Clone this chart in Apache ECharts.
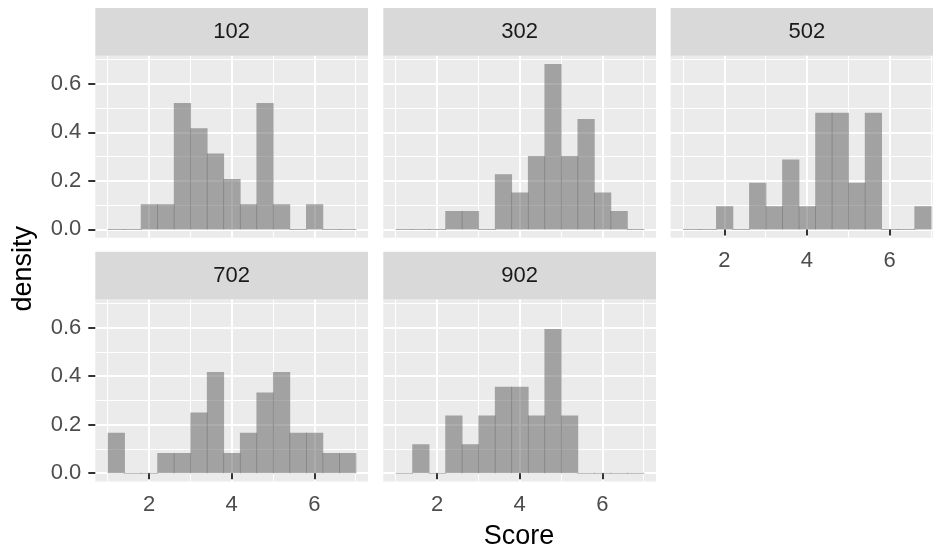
<!DOCTYPE html>
<html lang="en">
<head>
    <meta charset="utf-8">
    <title>Score density by group</title>
    <script src="https://cdn.jsdelivr.net/npm/echarts@6.0.0/dist/echarts.min.js"></script>
    <style>
        html, body { margin: 0; padding: 0; background: #fff; }
        #main { width: 933px; height: 550px; }
    </style>
</head>
<body>
<div id="main"></div>
<script type="text/javascript">
    // bin edges (width 0.4) and density per bin
    var breaks = [1.0, 1.4, 1.8, 2.2, 2.6, 3.0, 3.4, 3.8, 4.2, 4.6, 5.0, 5.4, 5.8, 6.2, 6.6, 7.0];
    var panelNames = ['102', '302', '502', '702', '902'];
    var d102 = [0, 0, 0.104, 0.104, 0.521, 0.417, 0.313, 0.208, 0.104, 0.521, 0.104, 0, 0.104, 0, 0];
    var d302 = [0, 0, 0, 0.076, 0.076, 0, 0.227, 0.152, 0.303, 0.682, 0.303, 0.455, 0.152, 0.076, 0];
    var d502 = [0, 0, 0.096, 0, 0.192, 0.096, 0.288, 0.096, 0.481, 0.481, 0.192, 0.481, 0, 0, 0.096];
    var d702 = [0.167, 0, 0, 0.083, 0.083, 0.25, 0.417, 0.083, 0.167, 0.333, 0.417, 0.167, 0.167, 0.083, 0.083];
    var d902 = [0, 0.119, 0, 0.238, 0.119, 0.238, 0.357, 0.357, 0.238, 0.595, 0.238, 0, 0, 0, 0];
    var xMajor = [2, 4, 6];
    var xMinor = [1, 3, 5, 7];
    var yMajor = [0, 0.2, 0.4, 0.6];
    var yMinor = [0.1, 0.3, 0.5, 0.7];

    var densities = [d102, d302, d502, d702, d902];
    var xRange = [0.7, 7.3];
    var yRange = [-0.0341, 0.7159];

    // panel boxes in px: left, top, width, height; which axes get labels
    var panels = [
        {left: 95.3, top: 55.8, showX: false, showY: true},
        {left: 383.3, top: 55.8, showX: false, showY: false},
        {left: 670.6, top: 55.8, showX: true, showY: false},
        {left: 95.3, top: 299.6, showX: true, showY: true},
        {left: 383.3, top: 299.6, showX: true, showY: false}
    ];
    var panelW = 272.7, panelH = 181.9, stripH = 47.8;
    var labelFont = 'Liberation Sans, Arial, sans-serif';

    var grids = [], xAxes = [], yAxes = [], series = [], graphics = [];

    panels.forEach(function (p, i) {
        grids.push({
            left: p.left, top: p.top, width: panelW, height: panelH,
            show: true, backgroundColor: '#EBEBEB', borderWidth: 0,
            containLabel: false, outerBoundsMode: 'none'
        });
        // major x axis
        xAxes.push({
            type: 'value', gridIndex: i, min: xRange[0], max: xRange[1],
            axisLine: {show: false},
            axisTick: {show: p.showX, length: 6, customValues: xMajor, lineStyle: {color: '#333333', width: 2}},
            axisLabel: {show: p.showX, customValues: xMajor, margin: 12, color: '#4D4D4D',
                fontSize: 22, fontFamily: labelFont},
            splitLine: {show: true, lineStyle: {color: '#FFFFFF', width: 2}}
        });
        // minor x lines
        xAxes.push({
            type: 'value', gridIndex: i, min: xRange[0], max: xRange[1],
            axisLine: {show: false}, axisTick: {show: false, customValues: xMinor},
            axisLabel: {show: false},
            splitLine: {show: true, lineStyle: {color: '#FFFFFF', width: 1}}
        });
        yAxes.push({
            type: 'value', gridIndex: i, min: yRange[0], max: yRange[1],
            axisLine: {show: false},
            axisTick: {show: p.showY, length: 7, customValues: yMajor, lineStyle: {color: '#333333', width: 2}},
            axisLabel: {show: p.showY, customValues: yMajor, margin: 14, color: '#4D4D4D',
                fontSize: 22, fontFamily: labelFont,
                formatter: function (v) { return v.toFixed(1); }},
            splitLine: {show: true, lineStyle: {color: '#FFFFFF', width: 2}}
        });
        yAxes.push({
            type: 'value', gridIndex: i, min: yRange[0], max: yRange[1],
            axisLine: {show: false}, axisTick: {show: false, customValues: yMinor},
            axisLabel: {show: false},
            splitLine: {show: true, lineStyle: {color: '#FFFFFF', width: 1}}
        });

        var data = [];
        for (var k = 0; k < densities[i].length; k++) {
            data.push([breaks[k], breaks[k + 1], densities[i][k]]);
        }
        series.push({
            type: 'custom',
            xAxisIndex: i * 2,
            yAxisIndex: i * 2,
            encode: {x: [0, 1], y: 2},
            data: data,
            clip: true,
            silent: true,
            renderItem: function (params, api) {
                var top = api.coord([api.value(0), api.value(2)]);
                var base = api.coord([api.value(1), 0]);
                var h = Math.max(base[1] - top[1], 1);
                return {
                    type: 'rect',
                    shape: {x: top[0], y: base[1] - h + (h === 1 ? 0.5 : 0), width: base[0] - top[0] + 0.7, height: h},
                    style: {fill: 'rgba(89,89,89,0.5)'}
                };
            }
        });

        // facet strip
        graphics.push({
            type: 'rect', left: p.left, top: p.top - stripH,
            shape: {width: panelW, height: stripH},
            style: {fill: '#D9D9D9'}
        });
        graphics.push({
            type: 'text', x: p.left + panelW / 2, y: p.top - stripH / 2,
            style: {text: panelNames[i], fill: '#1A1A1A', font: '22px ' + labelFont,
                textAlign: 'center', textVerticalAlign: 'middle'}
        });
    });

    graphics.push({
        type: 'text', x: 519, y: 537,
        style: {text: 'Score', fill: '#000000', font: '27px ' + labelFont,
            textAlign: 'center', textVerticalAlign: 'middle'}
    });
    graphics.push({
        type: 'text', x: 24, y: 268.7, rotation: Math.PI / 2,
        style: {text: 'density', fill: '#000000', font: '27px ' + labelFont,
            textAlign: 'center', textVerticalAlign: 'middle'}
    });

    var chart = echarts.init(document.getElementById('main'), null, {renderer: 'canvas'});
    chart.setOption({
        animation: false,
        backgroundColor: '#FFFFFF',
        grid: grids,
        xAxis: xAxes,
        yAxis: yAxes,
        series: series,
        graphic: graphics
    });
</script>
</body>
</html>
